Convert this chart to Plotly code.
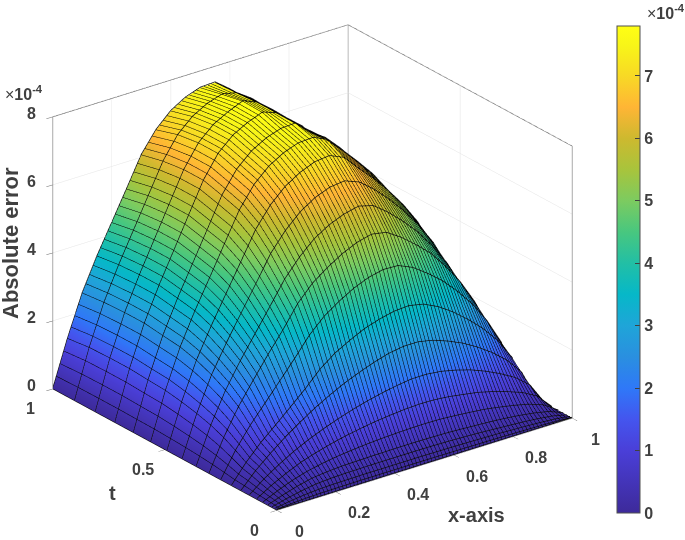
import numpy as np
import plotly.graph_objects as go

# grids
x_vals = [0, .05, .1, .15, .2, .25, .3, .35, .4, .45, .5, .55, .6, .65, .7, .75, .8, .85, .9, .95, 1]
t_vals = [0, .0025, .01, .0225, .04, .0625, .09, .1225, .16, .2025, .25, .3025, .36, .4225, .49, .5625, .64, .7225, .81, .9025, 1]

# absolute error (x 1e-4) along each constant-t line, for x = 0.05 ... 0.95 (zero at both ends)
z_t0000 = [0]*19
z_t0025 = [.03,.055,.07,.075,.078,.08,.08,.08,.08,.08,.078,.075,.072,.068,.062,.055,.047,.037,.022]
z_t0100 = [.07,.125,.16,.175,.18,.185,.185,.185,.185,.185,.18,.175,.17,.16,.148,.132,.115,.09,.058]
z_t0225 = [.11,.2,.27,.3,.315,.32,.325,.325,.325,.325,.32,.31,.295,.275,.25,.222,.194,.155,.1]
z_t0400 = [.15,.28,.38,.43,.46,.47,.48,.485,.49,.49,.485,.475,.455,.43,.405,.369,.323,.26,.17]
z_t0625 = [.2,.37,.5,.59,.66,.71,.75,.78,.8,.815,.82,.81,.78,.74,.695,.624,.54,.44,.285]
z_t0900 = [.26,.48,.67,.81,.93,1.03,1.11,1.18,1.23,1.27,1.29,1.28,1.24,1.17,1.096,.983,.845,.685,.445]
z_t1225 = [.34,.62,.87,1.08,1.26,1.42,1.56,1.68,1.78,1.86,1.92,1.92,1.87,1.77,1.64,1.466,1.258,1.01,.655]
z_t1600 = [.45,.82,1.16,1.46,1.74,1.98,2.2,2.38,2.54,2.67,2.74,2.74,2.65,2.49,2.295,2.044,1.747,1.39,.9]
z_t2025 = [.54,.99,1.37,1.76,2.16,2.6,2.93,3.17,3.38,3.52,3.62,3.65,3.56,3.35,3.06,2.709,2.31,1.822,1.18]
z_t2500 = [.73,1.33,1.84,2.36,2.88,3.43,3.85,4.15,4.4,4.58,4.68,4.66,4.47,4.16,3.81,3.37,2.864,2.244,1.452]
z_t3025 = [.92,1.69,2.33,2.95,3.53,4.17,4.63,4.95,5.22,5.42,5.53,5.45,5.17,4.82,4.43,3.916,3.326,2.591,1.676]
z_t3600 = [1.08,1.97,2.7,3.36,4.02,4.69,5.2,5.6,5.87,6.05,6.15,6.03,5.7,5.3,4.85,4.3,3.66,2.85,1.84]
z_t4225 = [1.2,2.2,3.0,3.74,4.47,5.22,5.76,6.17,6.45,6.62,6.67,6.5,6.15,5.73,5.25,4.7,4.05,3.2,2.0]
z_t4900 = [1.3,2.39,3.26,4.07,4.87,5.68,6.265,6.674,6.946,7.125,7.173,6.983,6.524,6.09,5.6,5.05,4.4,3.45,2.12]
z_t5625 = [1.38,2.52,3.45,4.29,5.15,6.0,6.613,7.015,7.269,7.425,7.45,7.25,6.8,6.34,5.85,5.25,4.55,3.6,2.2]
z_t6400 = [1.41,2.58,3.54,4.41,5.28,6.16,6.787,7.185,7.431,7.575,7.6,7.2,6.9,6.46,5.95,5.35,4.62,3.65,2.25]
z_t7225 = [1.45,2.65,3.63,4.52,5.42,6.31,6.961,7.356,7.593,7.76,7.6,7.2,6.85,6.5,6.0,5.4,4.62,3.65,2.25]
z_t8100 = [1.45,2.65,3.63,4.52,5.42,6.31,6.961,7.356,7.593,7.78,7.6,7.25,6.86,6.5,5.98,5.35,4.55,3.55,2.2]
z_t9025 = [1.43,2.62,3.59,4.47,5.35,6.23,6.874,7.27,7.512,7.65,7.55,7.25,6.85,6.45,5.95,5.3,4.48,3.48,2.15]
z_t10000 = [1.35,2.55,3.5,4.35,5.2,6.07,6.67,7.09,7.35,7.5,7.52,7.18,6.8,6.35,5.85,5.2,4.4,3.4,2.1]

rows = [z_t0000, z_t0025, z_t0100, z_t0225, z_t0400, z_t0625, z_t0900, z_t1225, z_t1600, z_t2025, z_t2500,
        z_t3025, z_t3600, z_t4225, z_t4900, z_t5625, z_t6400, z_t7225, z_t8100, z_t9025, z_t10000]
z = np.array([[0] + r + [0] for r in rows], dtype=float)

x_ticks = [0, .2, .4, .6, .8, 1]
x_tick_text = ["0", "0.2", "0.4", "0.6", "0.8", "1"]
t_ticks = [0, .5, 1]
t_tick_text = ["0", "0.5", "1"]
z_ticks = [0, 2, 4, 6, 8]
cbar_ticks = [0, 1, 2, 3, 4, 5, 6, 7]

z_max = 7.8
cscale = [[0, "#3d2a9a"], [.128, "#4a3fd8"], [.192, "#4455ee"], [.256, "#2f78f8"], [.32, "#2a8fe0"],
          [.385, "#1fa5d8"], [.449, "#06b8c8"], [.513, "#22bfa5"], [.577, "#48c77f"], [.641, "#7ccb60"],
          [.705, "#a8c43c"], [.769, "#cdb92f"], [.833, "#ffb535"], [.897, "#f8d925"], [.96, "#f8f518"], [1, "#ffff14"]]

TXT = "#404040"
FAM = "Liberation Sans"
tick_font = dict(family=FAM, size=16, color=TXT, weight="bold")

fig = go.Figure()
fig.add_trace(go.Surface(
    x=x_vals, y=t_vals, z=z, cmin=0, cmax=z_max, colorscale=cscale,
    lighting=dict(ambient=1, diffuse=0, specular=0, roughness=1, fresnel=0),
    contours=dict(x=dict(show=True, start=0, end=1, size=.0125, color="#000000", width=2, highlight=False),
                  y=dict(highlight=False), z=dict(highlight=False)),
    hoverinfo="skip",
    colorbar=dict(x=617/685, xanchor="left", y=1-26/540, yanchor="top", len=487/540, lenmode="fraction",
                  thickness=23, thicknessmode="pixels", outlinecolor="#505050", outlinewidth=1,
                  tickvals=cbar_ticks, ticks="inside", ticklen=5, tickcolor="#404040",
                  tickfont=tick_font, tickprefix="\u00a0", xpad=0, ypad=0),
))

# constant-t mesh lines, one per data row
lx, ly, lz = [], [], []
for j, t in enumerate(t_vals):
    lx += list(x_vals) + [None]
    ly += [t]*len(x_vals) + [None]
    lz += [float(v)+.02 for v in z[j]] + [None]
fig.add_trace(go.Scatter3d(x=lx, y=ly, z=lz, mode="lines", line=dict(color="#111111", width=1.5),
                           hoverinfo="skip", showlegend=False))

# box outline as MATLAB draws it
fx = [0,0,1,1,None, 1,1,None, 0,0,None, 0,1, None, 1,1,1]
fy = [1,1,1,1,None, 1,1,None, 0,1,None, 0,0, None, 0,0,1]
fz = [0,8,8,0,None, 0,8,None, 0,0,None, 0,0, None, 0,8,8]
fig.add_trace(go.Scatter3d(x=fx, y=fy, z=fz, mode="lines", line=dict(color="#606060", width=1.5),
                           hoverinfo="skip", showlegend=False))

ann = []
for v, s in zip(x_ticks, x_tick_text):
    ann.append(dict(x=v, y=0, z=0, text=f"<b>{s}</b>", showarrow=False, xshift=23, yshift=-21,
                    font=dict(family=FAM, size=16, color=TXT)))
for v, s in zip(t_ticks, t_tick_text):
    ann.append(dict(x=0, y=v, z=0, text=f"<b>{s}</b>", showarrow=False, xshift=-22, yshift=-20,
                    font=dict(family=FAM, size=16, color=TXT)))
for v in z_ticks:
    ann.append(dict(x=0, y=1, z=v, text=f"<b>{v}</b>", showarrow=False, xshift=-21, yshift=3,
                    font=dict(family=FAM, size=16, color=TXT)))

def axis(ticks, rng):
    return dict(range=rng, tickvals=ticks, ticks="outside", ticklen=8, tickcolor="#606060",
                showticklabels=False, title=dict(text=""), showline=False, showbackground=False,
                gridcolor="#e4e4e4", gridwidth=1, zeroline=False, showspikes=False)

def note(px, py, text, size, angle=0):
    return dict(xref="paper", yref="paper", x=px/685, y=1-py/540, text=text, textangle=angle, showarrow=False,
                xanchor="center", yanchor="middle", font=dict(family=FAM, size=size, color=TXT))

r = 2.0
k = 1.386
fig.update_layout(
    width=685, height=540, margin=dict(l=0, r=0, t=0, b=0), autosize=False,
    paper_bgcolor="white", showlegend=False,
    scene=dict(
        domain=dict(x=[0, 625/685], y=[5/540, 1]),
        xaxis=axis(x_ticks, [0, 1]), yaxis=axis(t_ticks, [0, 1]), zaxis=axis(z_ticks, [0, 8]),
        aspectmode="manual", aspectratio=dict(x=k, y=k, z=.805*k),
        camera=dict(eye=dict(x=-.551*r, y=-.726*r, z=.411*r), up=dict(x=0, y=0, z=1),
                    center=dict(x=0, y=0, z=0), projection=dict(type="orthographic")),
        annotations=ann,
    ),
    annotations=[
        note(11, 243, "<b>Absolute error</b>", 22, -90),
        note(113, 493, "<b>t</b>", 20),
        note(476, 515, "<b>x-axis</b>", 20),
        note(24, 93, "×<b>10<sup>-4</sup></b>", 16),
        note(666, 12, "×<b>10<sup>-4</sup></b>", 16),
    ],
)
fig.write_html("out.html", post_script="document.body.style.margin='0';", config=dict(displayModeBar=False))
